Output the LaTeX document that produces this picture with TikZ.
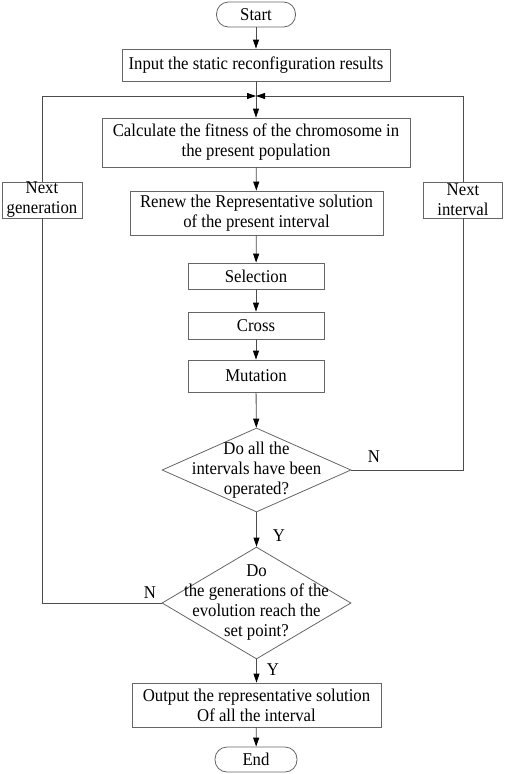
\documentclass[tikz,border=0pt]{standalone}
\usepackage{fontspec}
\setmainfont[FakeStretch=0.93]{Liberation Serif}
\usetikzlibrary{shapes.geometric,arrows.meta}
\begin{document}
\begin{tikzpicture}[x=1pt,y=-1pt, font=\fontsize{18}{20}\selectfont,
 box/.style={draw=black!60, line width=0.8pt, fill=white, inner sep=0pt, align=center},
 term/.style={box, rounded corners=12pt},
 dec/.style={draw=black!60, line width=0.8pt, diamond, inner sep=0pt, fill=white},
 txt/.style={align=center, inner sep=0pt},
 conn/.style={draw=black!70, line width=0.8pt},
 arr/.style={conn, -{Triangle[length=9pt,width=6pt,color=black]}},
]
\useasboundingbox (0,0) rectangle (505,774);

\node[term, minimum width=79pt, minimum height=25pt] (start) at (256,14.5) {Start};
\node[box, minimum width=268pt, minimum height=32pt] (input) at (256,65) {Input the static reconfiguration results};
\node[box, minimum width=308pt, minimum height=49pt] (calc) at (256,142.5) {Calculate the fitness of the chromosome in\\the present population};
\node[box, minimum width=253pt, minimum height=44pt] (renew) at (256.5,213) {Renew the Representative solution\\of the present interval};
\node[box, minimum width=80pt, minimum height=36pt] (nextgen) at (42,200) {Next\\generation};
\node[box, minimum width=79pt, minimum height=36pt] (nextint) at (463,200) {Next\\interval};
\node[box, minimum width=136pt, minimum height=26pt] (sel) at (256,276) {Selection};
\node[box, minimum width=136pt, minimum height=27pt] (cross) at (256,325.5) {Cross};
\node[box, minimum width=136pt, minimum height=32pt] (mut) at (256,376) {Mutation};
\node[dec, minimum width=189pt, minimum height=84pt] (d1) at (256.5,470) {};
\node[txt] (d1t) at (d1.center) {Do all the\\intervals have been\\operated?};
\node[dec, minimum width=189pt, minimum height=112pt] (d2) at (256.5,603) {};
\node[txt] (d2t) at (d2.center) {Do\\the generations of the\\evolution reach the\\set point?};
\node[box, minimum width=249pt, minimum height=44pt] (out) at (256.5,705) {Output the representative solution\\Of all the interval};
\node[term, minimum width=82pt, minimum height=25pt] (end) at (256,759.5) {End};

\node[txt] (y1) at (279,536) {Y};
\node[txt] (n1) at (374,457) {N};
\node[txt] (n2) at (150,593) {N};
\node[txt] (y2) at (273,670) {Y};

\coordinate (j) at (256,96);
\draw[arr] (start) -- (input);
\draw[conn] (input) -- (j);
\draw[arr] (j) -- (calc);
\draw[arr] (calc) -- (renew);
\draw[arr] (renew) -- (sel);
\draw[arr] (sel) -- (cross);
\draw[arr] (cross) -- (mut);
\draw[arr] (mut) -- (d1);
\draw[arr] (d1) -- (d2);
\draw[arr] (d2) -- (out);
\draw[arr] (out) -- (end);
\draw[conn] (d1.east) -| (nextint);
\draw[arr] (nextint) |- (j);
\draw[conn] (d2.west) -| (nextgen);
\draw[arr] (nextgen) |- (j);
\end{tikzpicture}
\end{document}
